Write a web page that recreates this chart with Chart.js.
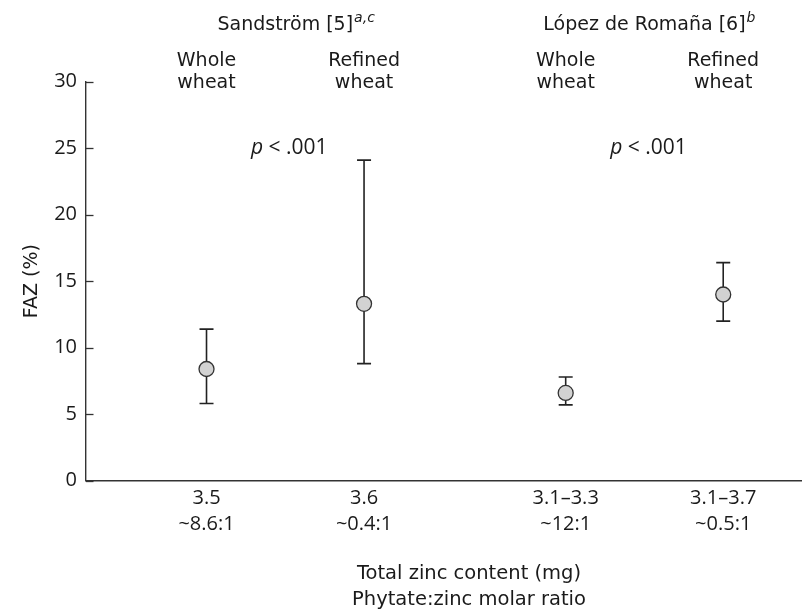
<!DOCTYPE html>
<html>
<head>
<meta charset="utf-8">
<script src="https://cdn.jsdelivr.net/npm/chart.js@4.4.1/dist/chart.umd.min.js"></script>
<style>
  html, body { margin: 0; padding: 0; background: #fff; }
</style>
</head>
<body>
<canvas id="fazChart" width="810" height="614"></canvas>
<script>
// values
var zincContent = ["3.5", "3.6", "3.1–3.3", "3.1–3.7"];
var molarRatio = ["~8.6:1", "~0.4:1", "~12:1", "~0.5:1"];
var diets = [["Whole", "wheat"], ["Refined", "wheat"], ["Whole", "wheat"], ["Refined", "wheat"]];
var studies = ["Sandström [5]", "López de Romaña [6]"];
var studyNotes = ["a,c", "b"];
var pText = ["< .001", "< .001"];
var fazMean = [8.4, 13.3, 6.6, 14.0];
var fazLow = [5.8, 8.8, 5.7, 12.0];
var fazHigh = [11.4, 24.1, 7.8, 16.4];
var yTicks = [0, 5, 10, 15, 20, 25, 30];

// where each diet sits along the x axis (two groups of two)
var slots = [1, 2, 3.28, 4.28];

var numFont = "'Open Sans', sans-serif";
var textFont = "'DejaVu Sans', sans-serif";
var ink = "#1a1a1a";

var meanPoints = slots.map(function (s, i) { return { x: s, y: fazMean[i] }; });
var barPoints = [];
slots.forEach(function (s, i) {
  barPoints.push({ x: s, y: fazLow[i] });
  barPoints.push({ x: s, y: fazHigh[i] });
  barPoints.push({ x: s, y: null });
});

// headers, p values, inward y ticks, x title
var annotate = {
  id: "annotate",
  afterDraw: function (chart) {
    var ctx = chart.ctx;
    var xs = chart.scales.x, ys = chart.scales.y;
    var area = chart.chartArea;
    ctx.save();
    ctx.strokeStyle = "#333";
    ctx.lineWidth = 1.3;
    yTicks.forEach(function (v) {
      var py = Math.round(ys.getPixelForValue(v)) + 0.5;
      ctx.beginPath();
      ctx.moveTo(area.left, py);
      ctx.lineTo(area.left + 7.5, py);
      ctx.stroke();
    });

    ctx.fillStyle = ink;
    ctx.textBaseline = "middle";
    ctx.textAlign = "center";
    ctx.font = "19px " + textFont;
    slots.forEach(function (s, i) {
      var px = xs.getPixelForValue(s);
      ctx.fillText(diets[i][0], px, 61);
      ctx.fillText(diets[i][1], px, 83);
    });

    for (var g = 0; g < 2; g++) {
      var mid = xs.getPixelForValue((slots[2 * g] + slots[2 * g + 1]) / 2);
      // study header with superscript note
      ctx.font = "19px " + textFont;
      var w = ctx.measureText(studies[g]).width;
      ctx.textAlign = "left";
      ctx.fillText(studies[g], mid - w / 2, 25);
      ctx.font = "oblique 14px " + textFont;
      ctx.fillText(studyNotes[g], mid + w / 2 + 1, 18);
      // p value
      ctx.font = "italic 21px " + numFont;
      var pw = ctx.measureText("p ").width;
      ctx.font = "21px " + numFont;
      var rw = ctx.measureText(pText[g]).width;
      var start = mid + 4 - (pw + rw) / 2;
      var py = ys.getPixelForValue(25);
      ctx.font = "italic 21px " + numFont;
      ctx.fillText("p ", start, py);
      ctx.font = "21px " + numFont;
      ctx.fillText(pText[g], start + pw, py);
    }

    ctx.textAlign = "center";
    ctx.font = "19.5px " + textFont;
    ctx.fillText("Total zinc content (mg)", 469, 574);
    ctx.fillText("Phytate:zinc molar ratio", 469, 600);
    ctx.restore();
  }
};

var ctx = document.getElementById("fazChart").getContext("2d");
var fazChart = new Chart(ctx, {
  type: "scatter",
  data: {
    datasets: [{
      label: "FAZ",
      data: meanPoints,
      pointRadius: 7.5,
      pointBackgroundColor: "#d2d2d2",
      pointBorderColor: "#333",
      pointBorderWidth: 1.3
    }, {
      label: "range",
      data: barPoints,
      showLine: true,
      spanGaps: false,
      borderColor: "#222",
      borderWidth: 1.6,
      pointStyle: "line",
      pointRadius: 7,
      pointBorderColor: "#222",
      pointBorderWidth: 1.6
    }]
  },
  options: {
    responsive: false,
    animation: false,
    layout: { padding: { top: 81.7, right: 0, bottom: 0, left: 0 } },
    plugins: {
      legend: { display: false },
      tooltip: { enabled: false }
    },
    scales: {
      x: {
        type: "linear",
        min: 0.235,
        max: 4.775,
        afterBuildTicks: function (scale) {
          scale.ticks = slots.map(function (v) { return { value: v }; });
        },
        afterFit: function (scale) { scale.height = 133.3; },
        grid: { display: false, drawTicks: false },
        border: { display: true, color: "#333", width: 1.4 },
        ticks: {
          padding: 5,
          color: ink,
          font: { family: numFont, size: 20, lineHeight: 1.3 },
          callback: function (v, i) { return [zincContent[i], molarRatio[i]]; }
        }
      },
      y: {
        min: 0,
        max: 30,
        afterBuildTicks: function (scale) {
          scale.ticks = yTicks.map(function (v) { return { value: v }; });
        },
        afterFit: function (scale) { scale.width = 86; },
        grid: { display: false, drawTicks: false },
        border: { display: true, color: "#333", width: 1.4 },
        ticks: {
          padding: 9,
          color: ink,
          font: { family: numFont, size: 20 }
        },
        title: {
          display: true,
          text: "FAZ (%)",
          color: ink,
          font: { family: textFont, size: 19 },
          padding: { top: 21, bottom: 0 }
        }
      }
    }
  },
  plugins: [annotate]
});
</script>
</body>
</html>
